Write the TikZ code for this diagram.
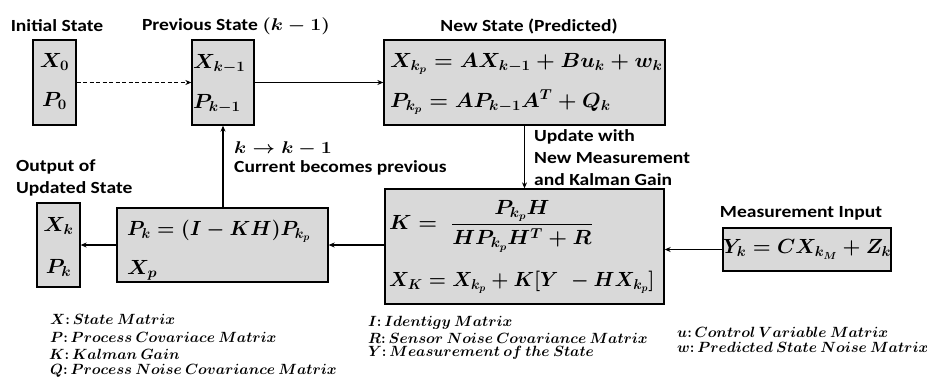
\RequirePackage{fix-cm}
\documentclass[tikz,border=0pt]{standalone}
\usepackage{amsmath}
\usepackage{fontspec}
\setmainfont{Carlito}
\usetikzlibrary{arrows.meta}
\definecolor{boxgray}{RGB}{217,217,217}
% slightly widened type for the titles and notes
\newcommand\wideit[1]{\scalebox{1.15}[1]{#1}}
\newcommand\eqwide[1]{\scalebox{1.05}[1]{#1}}

\begin{document}
\begin{tikzpicture}[x=1pt, y=-1pt,
  box/.style={draw=black, line width=1.3pt, fill=boxgray, inner sep=0pt},
  lbl/.style={font=\fontsize{17}{22}\selectfont\bfseries\boldmath, inner sep=0pt},
  eq/.style={font=\fontsize{20.5}{24}\selectfont\boldmath, inner sep=0pt},
  leg/.style={font=\fontsize{14.8}{16}\selectfont\boldmath, inner sep=0pt, anchor=west},
  arr/.style={line width=1.5pt, -{Stealth[length=6pt,width=5pt]}},
  dasharr/.style={arr, dash pattern=on 4pt off 2.5pt}]

\useasboundingbox (0,0) rectangle (927,378);

% ---- boxes ----
\node[box, minimum width=43pt,  minimum height=85pt]  (init) at (54.5,82.5) {};
\node[box, minimum width=62pt,  minimum height=85pt]  (prev) at (223,82.5) {};
\node[box, minimum width=281pt, minimum height=85pt]  (pred) at (524.5,82.5) {};
\node[box, minimum width=279pt, minimum height=115pt] (gain) at (524.5,246.5) {};
\node[box, minimum width=211pt, minimum height=74pt]  (upd)  at (222.5,245) {};
\node[box, minimum width=43pt,  minimum height=84pt]  (out)  at (58.5,245) {};
\node[box, minimum width=162pt, minimum height=43pt, font=\fontsize{20.5}{24}\selectfont\boldmath]
  (meas) at (807,249.5) {$Y_k = CX_{k_M} + Z_k$};

% ---- box contents ----
\node[eq] (x0) at (54.5,62) {\eqwide{$X_0$}};
\node[eq] (p0) at (54.5,101) {\eqwide{$P_0$}};
\node[eq, anchor=west] (xprev) at (193,64) {\eqwide{$X_{k-1}$}};
\node[eq, anchor=west] (pprev) at (193,104) {\eqwide{$P_{k-1}$}};
\node[eq, anchor=west] (xpred) at (390,64) {\eqwide{$X_{k_p} = AX_{k-1} + Bu_k + w_k$}};
\node[eq, anchor=west] (ppred) at (390,102) {\eqwide{$P_{k_p} = AP_{k-1}A^T + Q_k$}};
\node[eq, anchor=west] (kform) at (389,226) {\eqwide{$K = \;\dfrac{P_{k_p}H}{HP_{k_p}H^T + R}$}};
\node[eq, anchor=west] (xform) at (389,282) {\scalebox{0.96}[1]{$X_K = X_{k_p} + K[Y\,\, - HX_{k_p}]$}};
\node[eq, anchor=west] (pform) at (127,231) {\scalebox{0.975}[1]{$P_k = (I - KH)P_{k_p}$}};
\node[eq, anchor=west] (xpform) at (127,270) {\eqwide{$X_p$}};
\node[eq] (xout) at (58.5,226) {\eqwide{$X_k$}};
\node[eq] (pout) at (58.5,268) {\eqwide{$P_k$}};

% ---- titles and notes ----
\node[lbl] (tinit) at (57,26) {\wideit{Initial State}};
\node[lbl] (tprev) at (236,26) {\wideit{Previous State $(k-1)$}};
\node[lbl] (tpred) at (529,26) {\wideit{New State (Predicted)}};
\node[lbl] (tmeas) at (801,213) {\wideit{Measurement Input}};
\node[lbl, anchor=north west] (tupd) at (534,126)
  {\wideit{\begin{tabular}{@{}l@{}}Update with\\New Measurement\\and Kalman Gain\end{tabular}}};
\node[lbl, anchor=west] (tstep) at (234,149) {\wideit{$k \rightarrow k-1$}};
\node[lbl, anchor=west] (tcur) at (234,168) {\wideit{Current becomes previous}};
\node[lbl, anchor=west] (tout) at (16,178)
  {\wideit{\begin{tabular}{@{}l@{}}Output of\\Updated State\end{tabular}}};

% ---- connectors ----
\draw[dasharr] (init) -- (prev);
\draw[arr] (prev) -- (pred);
\draw[arr] (pred) -- (gain);
\draw[arr] (meas.west) -- (gain.east |- meas.west);
\draw[arr] (gain.west |- upd.east) -- (upd.east);
\draw[arr] (upd) -- (out);
\draw[arr] (upd.north -| prev.south) -- (prev.south);

% ---- legend ----
\node[leg] (lx) at (50,319) {$X{:}\,State\ Matrix$};
\node[leg] (lp) at (50,337) {$P{:}\,Process\ Covariace\ Matrix$};
\node[leg] (lk) at (49,354) {$K{:}\,Kalman\ Gain$};
\node[leg] (lq) at (50,371) {$Q{:}\,Process\ Noise\ Covariance\ Matrix$};
\node[leg] (li) at (368,323) {$I{:}\,Identigy\ Matrix$};
\node[leg] (lr) at (368,338) {$R{:}\,Sensor\ Noise\ Covariance\ Matrix$};
\node[leg] (ly) at (368,353) {$Y{:}\,Measurement\ of\ the\ State$};
\node[leg] (lu) at (677,332) {$u{:}\,Control\ Variable\ Matrix$};
\node[leg] (lw) at (677,347) {$w{:}\,Predicted\ State\ Noise\ Matrix$};
\end{tikzpicture}
\end{document}
